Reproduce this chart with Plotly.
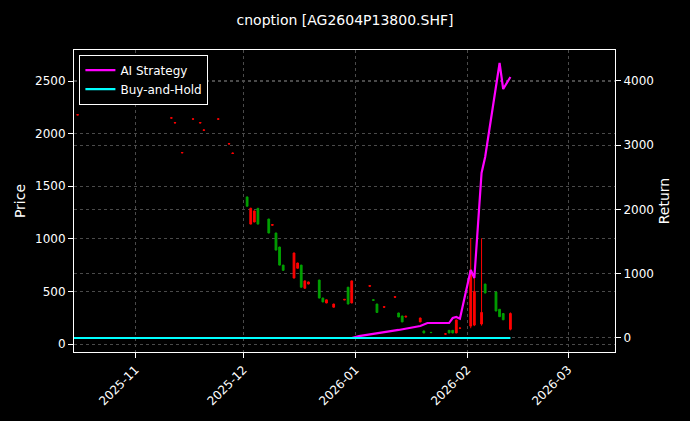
import plotly.graph_objects as go

# candles (date, open, high, low, close)
c_dates = ["2025-10-16", "2025-11-11", "2025-11-12", "2025-11-14", "2025-11-17", "2025-11-19",
           "2025-11-20", "2025-11-24", "2025-11-27", "2025-11-28",
           "2025-12-02", "2025-12-03", "2025-12-04", "2025-12-05", "2025-12-08", "2025-12-09",
           "2025-12-10", "2025-12-11", "2025-12-12", "2025-12-15", "2025-12-16", "2025-12-17",
           "2025-12-18", "2025-12-19", "2025-12-22", "2025-12-23", "2025-12-24", "2025-12-26",
           "2025-12-29", "2025-12-30", "2025-12-31", "2026-01-05", "2026-01-06", "2026-01-07",
           "2026-01-09", "2026-01-12", "2026-01-13", "2026-01-14", "2026-01-15", "2026-01-19",
           "2026-01-20", "2026-01-22", "2026-01-26", "2026-01-27", "2026-01-28", "2026-01-29",
           "2026-01-30", "2026-02-02", "2026-02-03", "2026-02-05", "2026-02-06", "2026-02-09",
           "2026-02-10", "2026-02-11", "2026-02-13"]
c_open = [2180, 2150, 2105, 1820, 2140, 2105, 2035, 2140, 1905, 1815,
          1310, 1290, 1265, 1140, 1055, 1135, 893, 750, 700, 865, 770, 540,
          600, 590, 437, 400, 420, 380, 425, 380, 600, 555, 415, 300,
          355, 450, 257, 210, 265, 247, 105, 108, 97, 105, 105, 228,
          152, 700, 500, 300, 485, 314, 260, 230, 290]
c_high = [2185, 2155, 2110, 1825, 2145, 2110, 2040, 2145, 1910, 1820,
          1400, 1295, 1268, 1292, 1190, 1140, 1057, 924, 752, 868, 772, 752,
          602, 592, 610, 439, 422, 382, 428, 542, 602, 558, 422, 382,
          358, 452, 297, 268, 268, 250, 126, 112, 100, 132, 132, 230,
          155, 1005, 700, 1005, 572, 496, 332, 292, 300]
c_low = [2175, 2145, 2100, 1815, 2135, 2100, 2030, 2135, 1900, 1810,
         1308, 1138, 1158, 1138, 1053, 1128, 891, 748, 698, 625, 718, 538,
         528, 568, 435, 398, 388, 348, 418, 378, 388, 548, 412, 298,
         348, 442, 255, 208, 255, 208, 103, 106, 92, 103, 103, 103,
         148, 150, 170, 175, 483, 312, 258, 228, 130]
c_close = [2178, 2148, 2102, 1818, 2138, 2102, 2032, 2138, 1902, 1812,
           1398, 1140, 1160, 1290, 1188, 1130, 1055, 922, 750, 627, 720, 750,
           530, 570, 608, 437, 390, 350, 420, 540, 390, 550, 420, 380,
           350, 445, 295, 266, 258, 210, 124, 110, 94, 130, 130, 105,
           150, 170, 180, 190, 570, 494, 330, 290, 140]

# strategy returns
r_dates = ["2025-10-15", "2025-12-31", "2026-01-02", "2026-01-08", "2026-01-13", "2026-01-19",
           "2026-01-21", "2026-01-27", "2026-01-28", "2026-01-29", "2026-01-30", "2026-02-02",
           "2026-02-03", "2026-02-05", "2026-02-06", "2026-02-10", "2026-02-11", "2026-02-13"]
ai_ret = [0, 0, 30, 78, 125, 187, 233, 233, 311, 327, 300, 1058,
          934, 2568, 2817, 4280, 3875, 4062]
bh_ret = [0] * len(r_dates)

fig = go.Figure()
fig.add_trace(go.Candlestick(x=c_dates, open=c_open, high=c_high, low=c_low, close=c_close,
                             increasing=dict(line=dict(color="#00a000", width=1), fillcolor="#00a000"),
                             decreasing=dict(line=dict(color="#ff0000", width=1), fillcolor="#ff0000"),
                             whiskerwidth=0, showlegend=False))
fig.add_trace(go.Scatter(x=r_dates, y=ai_ret, mode="lines", name="AI Strategy",
                         line=dict(color="#ff00ff", width=2.2), yaxis="y2"))
fig.add_trace(go.Scatter(x=r_dates, y=bh_ret, mode="lines", name="Buy-and-Hold",
                         line=dict(color="#00ffff", width=2.2), yaxis="y2"))

ax = dict(showline=True, linecolor="white", linewidth=1, ticks="outside", automargin=False,
          tickcolor="white", gridcolor="#4a4a4a", griddash="dot", gridwidth=0.6,
          zeroline=False, tickfont=dict(color="white", size=12))
fig.update_layout(
    width=690, height=421, paper_bgcolor="black", plot_bgcolor="black",
    margin=dict(l=74, r=75, t=50, b=69),
    font=dict(family="DejaVu Sans", color="white", size=12),
    title=dict(text="cnoption [AG2604P13800.SHF]", x=0.5, xanchor="center", y=0.952,
               yanchor="middle", font=dict(size=14, color="white")),
    xaxis=dict(ax, range=["2025-10-15", "2026-03-14"], tickformat="%Y-%m", tickangle=-45,
               dtick="M1", rangeslider=dict(visible=False), mirror=True),
    yaxis=dict(ax, title=dict(text="Price", standoff=6), range=[-76, 2795], dtick=500),
    yaxis2=dict(ax, title=dict(text="Return", standoff=6), overlaying="y", side="right",
                range=[-218, 4482], dtick=1000),
    legend=dict(x=0.01, y=0.985, xanchor="left", yanchor="top", bgcolor="black",
                bordercolor="white", borderwidth=1, font=dict(color="white", size=12)),
)
fig.write_html("out.html", config={"displayModeBar": False})

# drop the page margin so the figure sits at the window corner
with open("out.html", encoding="utf-8") as f:
    page = f.read()
page = page.replace("<head>", "<head><style>body{margin:0;background:black}</style>", 1)
with open("out.html", "w", encoding="utf-8") as f:
    f.write(page)
